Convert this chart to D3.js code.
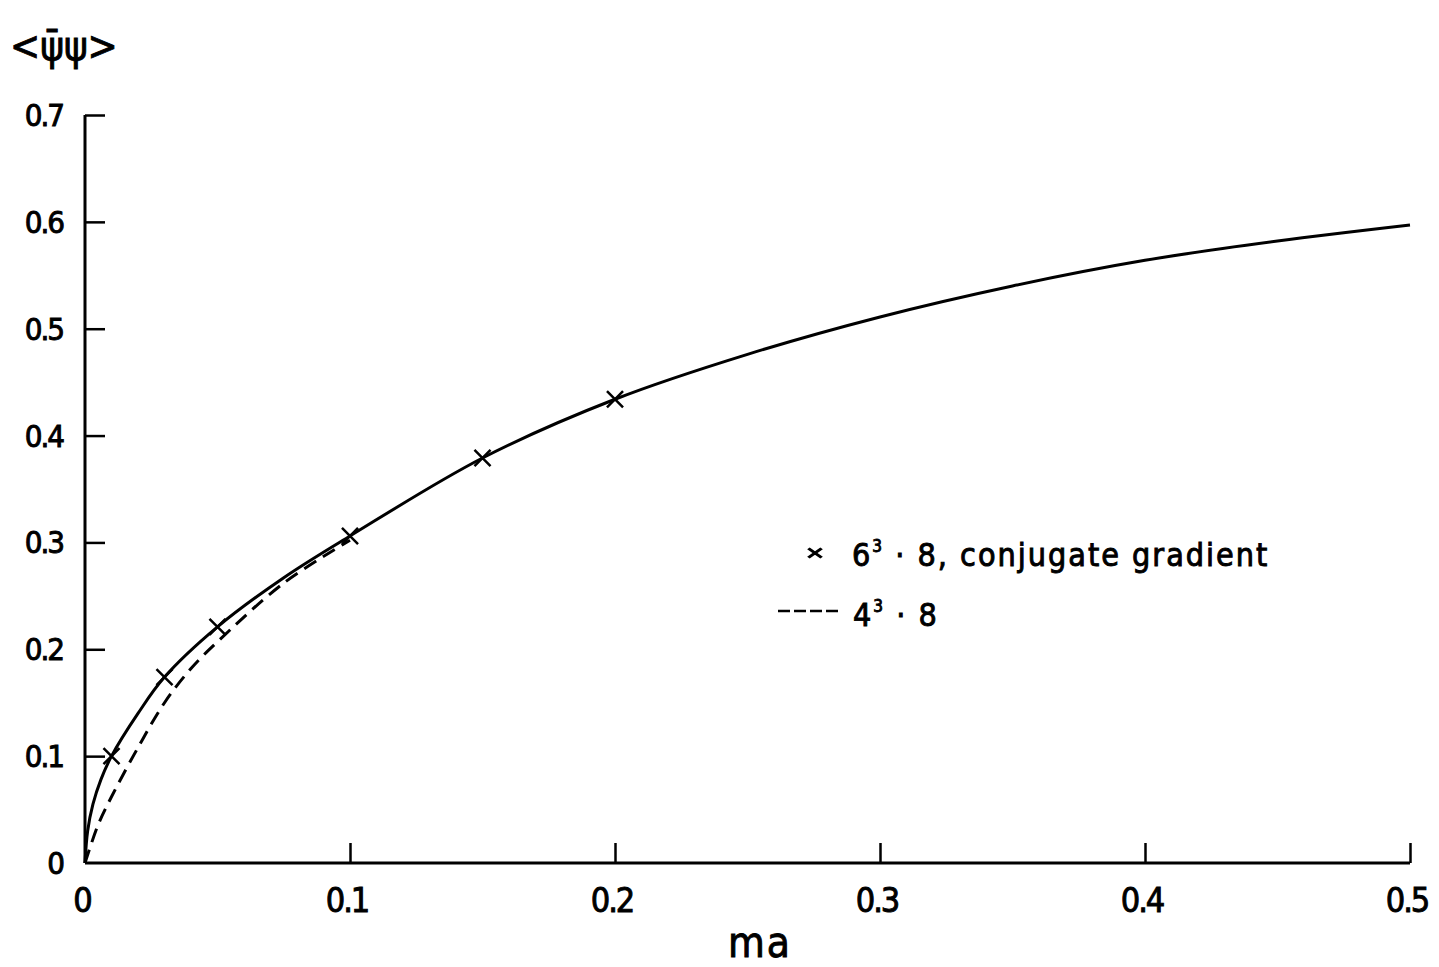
<!DOCTYPE html>
<html>
<head>
<meta charset="utf-8">
<script src="https://cdn.jsdelivr.net/npm/d3@7"></script>
<style>
  body { margin: 0; background: #fff; }
  text { font-family: "DejaVu Sans Condensed", "DejaVu Sans", sans-serif; fill: #000; stroke: #000; stroke-width: 0.9; }
</style>
</head>
<body>
<script>
//data
var xTicks = [0, 0.1, 0.2, 0.3, 0.4, 0.5];
var yTicks = [0, 0.1, 0.2, 0.3, 0.4, 0.5, 0.6, 0.7];

//6^3*8 conjugate gradient points (crosses)
var cgMa  = [0.01, 0.03, 0.05, 0.1, 0.15, 0.2];
var cgVal = [0.100, 0.174, 0.221, 0.306, 0.379, 0.434];

//solid curve through the crosses
var solidMa  = [0, 0.001, 0.003, 0.006, 0.01, 0.02, 0.03, 0.05, 0.075, 0.1, 0.15, 0.2, 0.25, 0.3, 0.35, 0.4, 0.45, 0.5];
var solidVal = [0, 0.030, 0.055, 0.078, 0.100, 0.140, 0.174, 0.221, 0.267, 0.306, 0.379, 0.434, 0.476, 0.511, 0.540, 0.564, 0.582, 0.597];

//4^3*8 dashed curve
var dashMa  = [0, 0.005, 0.01, 0.02, 0.03, 0.04, 0.05, 0.075, 0.1];
var dashVal = [0, 0.036, 0.062, 0.108, 0.150, 0.182, 0.207, 0.262, 0.302];

var width = 1439, height = 967;

var svg = d3.select("body").append("svg")
	.attr("width", width)
	.attr("height", height);

var x = d3.scaleLinear().domain([0, 0.5]).range([85, 1410]);
var y = d3.scaleLinear().domain([0, 0.7]).range([863, 115]);

//axes: ticks point inward like the original
var xAxis = d3.axisBottom(x).tickValues(xTicks).tickSize(-20).tickFormat("");
var yAxis = d3.axisLeft(y).tickValues(yTicks).tickSize(-20).tickFormat("");

svg.append("g")
	.attr("transform", "translate(0," + y(0) + ")")
	.call(xAxis)
	.call(function(g){
		g.select(".domain").attr("stroke-width", 3).attr("d", "M" + x(0) + ",0H" + x(0.5));
		g.selectAll(".tick line").attr("stroke-width", 2.5);
		g.selectAll(".tick").filter(function(d){ return d === 0; }).remove();
	});

svg.append("g")
	.attr("transform", "translate(" + x(0) + ",0)")
	.call(yAxis)
	.call(function(g){
		g.select(".domain").attr("stroke-width", 3).attr("d", "M0," + y(0) + "V" + y(0.7));
		g.selectAll(".tick line").attr("stroke-width", 2.5);
		g.selectAll(".tick").filter(function(d){ return d === 0; }).remove();
	});

function fmt(d){ return d === 0 ? "0" : d3.format(".1f")(d); }

//tick labels
svg.selectAll(".xlab")
	.data(xTicks)
	.enter()
	.append("text")
	.attr("class", "xlab")
	.attr("x", function(d){ return x(d) - 3; })
	.attr("y", 912)
	.attr("text-anchor", "middle")
	.attr("font-size", 34)
	.attr("letter-spacing", -2)
	.text(fmt);

svg.selectAll(".ylab")
	.data(yTicks)
	.enter()
	.append("text")
	.attr("class", "ylab")
	.attr("x", 63)
	.attr("y", function(d){ return y(d) + 11; })
	.attr("text-anchor", "end")
	.attr("font-size", 31)
	.attr("letter-spacing", -2)
	.text(fmt);

//axis titles
svg.append("text")
	.attr("x", 760)
	.attr("y", 957)
	.attr("text-anchor", "middle")
	.attr("font-size", 42)
	.attr("letter-spacing", 2)
	.text("ma");

svg.append("text")
	.attr("x", 10)
	.attr("y", 60)
	.attr("font-size", 40)
	.text("<\u03C8\u0304\u03C8>");

//curves
var line = d3.line()
	.x(function(d){ return x(d[0]); })
	.y(function(d){ return y(d[1]); })
	.curve(d3.curveCatmullRom.alpha(0.5));

svg.append("path")
	.datum(d3.zip(solidMa, solidVal))
	.attr("fill", "none")
	.attr("stroke", "#000")
	.attr("stroke-width", 3)
	.attr("d", line);

svg.append("path")
	.datum(d3.zip(dashMa, dashVal))
	.attr("fill", "none")
	.attr("stroke", "#000")
	.attr("stroke-width", 3)
	.attr("stroke-dasharray", "14,8")
	.attr("d", line);

//crosses
var cross = d3.symbol().type(d3.symbolX).size(170);
svg.selectAll(".cg")
	.data(d3.zip(cgMa, cgVal))
	.enter()
	.append("path")
	.attr("class", "cg")
	.attr("transform", function(d){ return "translate(" + x(d[0]) + "," + y(d[1]) + ")"; })
	.attr("d", cross)
	.attr("fill", "none")
	.attr("stroke", "#000")
	.attr("stroke-width", 2.5);

//legend
svg.append("path")
	.attr("transform", "translate(815,553) scale(1.2,0.85)")
	.attr("d", d3.symbol().type(d3.symbolX).size(80))
	.attr("fill", "none")
	.attr("stroke", "#000")
	.attr("stroke-width", 3);

var l1 = svg.append("text")
	.attr("x", 852)
	.attr("y", 566)
	.attr("font-size", 32)
	.attr("letter-spacing", 2);
l1.append("tspan").text("6");
l1.append("tspan").attr("dy", -14).attr("font-size", 17).text("3");
l1.append("tspan").attr("dy", 14).text(" \u00B7 8, conjugate gradient");

svg.append("line")
	.attr("x1", 778).attr("x2", 840)
	.attr("y1", 611).attr("y2", 611)
	.attr("stroke", "#000")
	.attr("stroke-width", 2.5)
	.attr("stroke-dasharray", "12,4");

var l2 = svg.append("text")
	.attr("x", 853)
	.attr("y", 626)
	.attr("font-size", 32)
	.attr("letter-spacing", 2);
l2.append("tspan").text("4");
l2.append("tspan").attr("dy", -14).attr("font-size", 17).text("3");
l2.append("tspan").attr("dy", 14).text(" \u00B7 8");
</script>
</body>
</html>
